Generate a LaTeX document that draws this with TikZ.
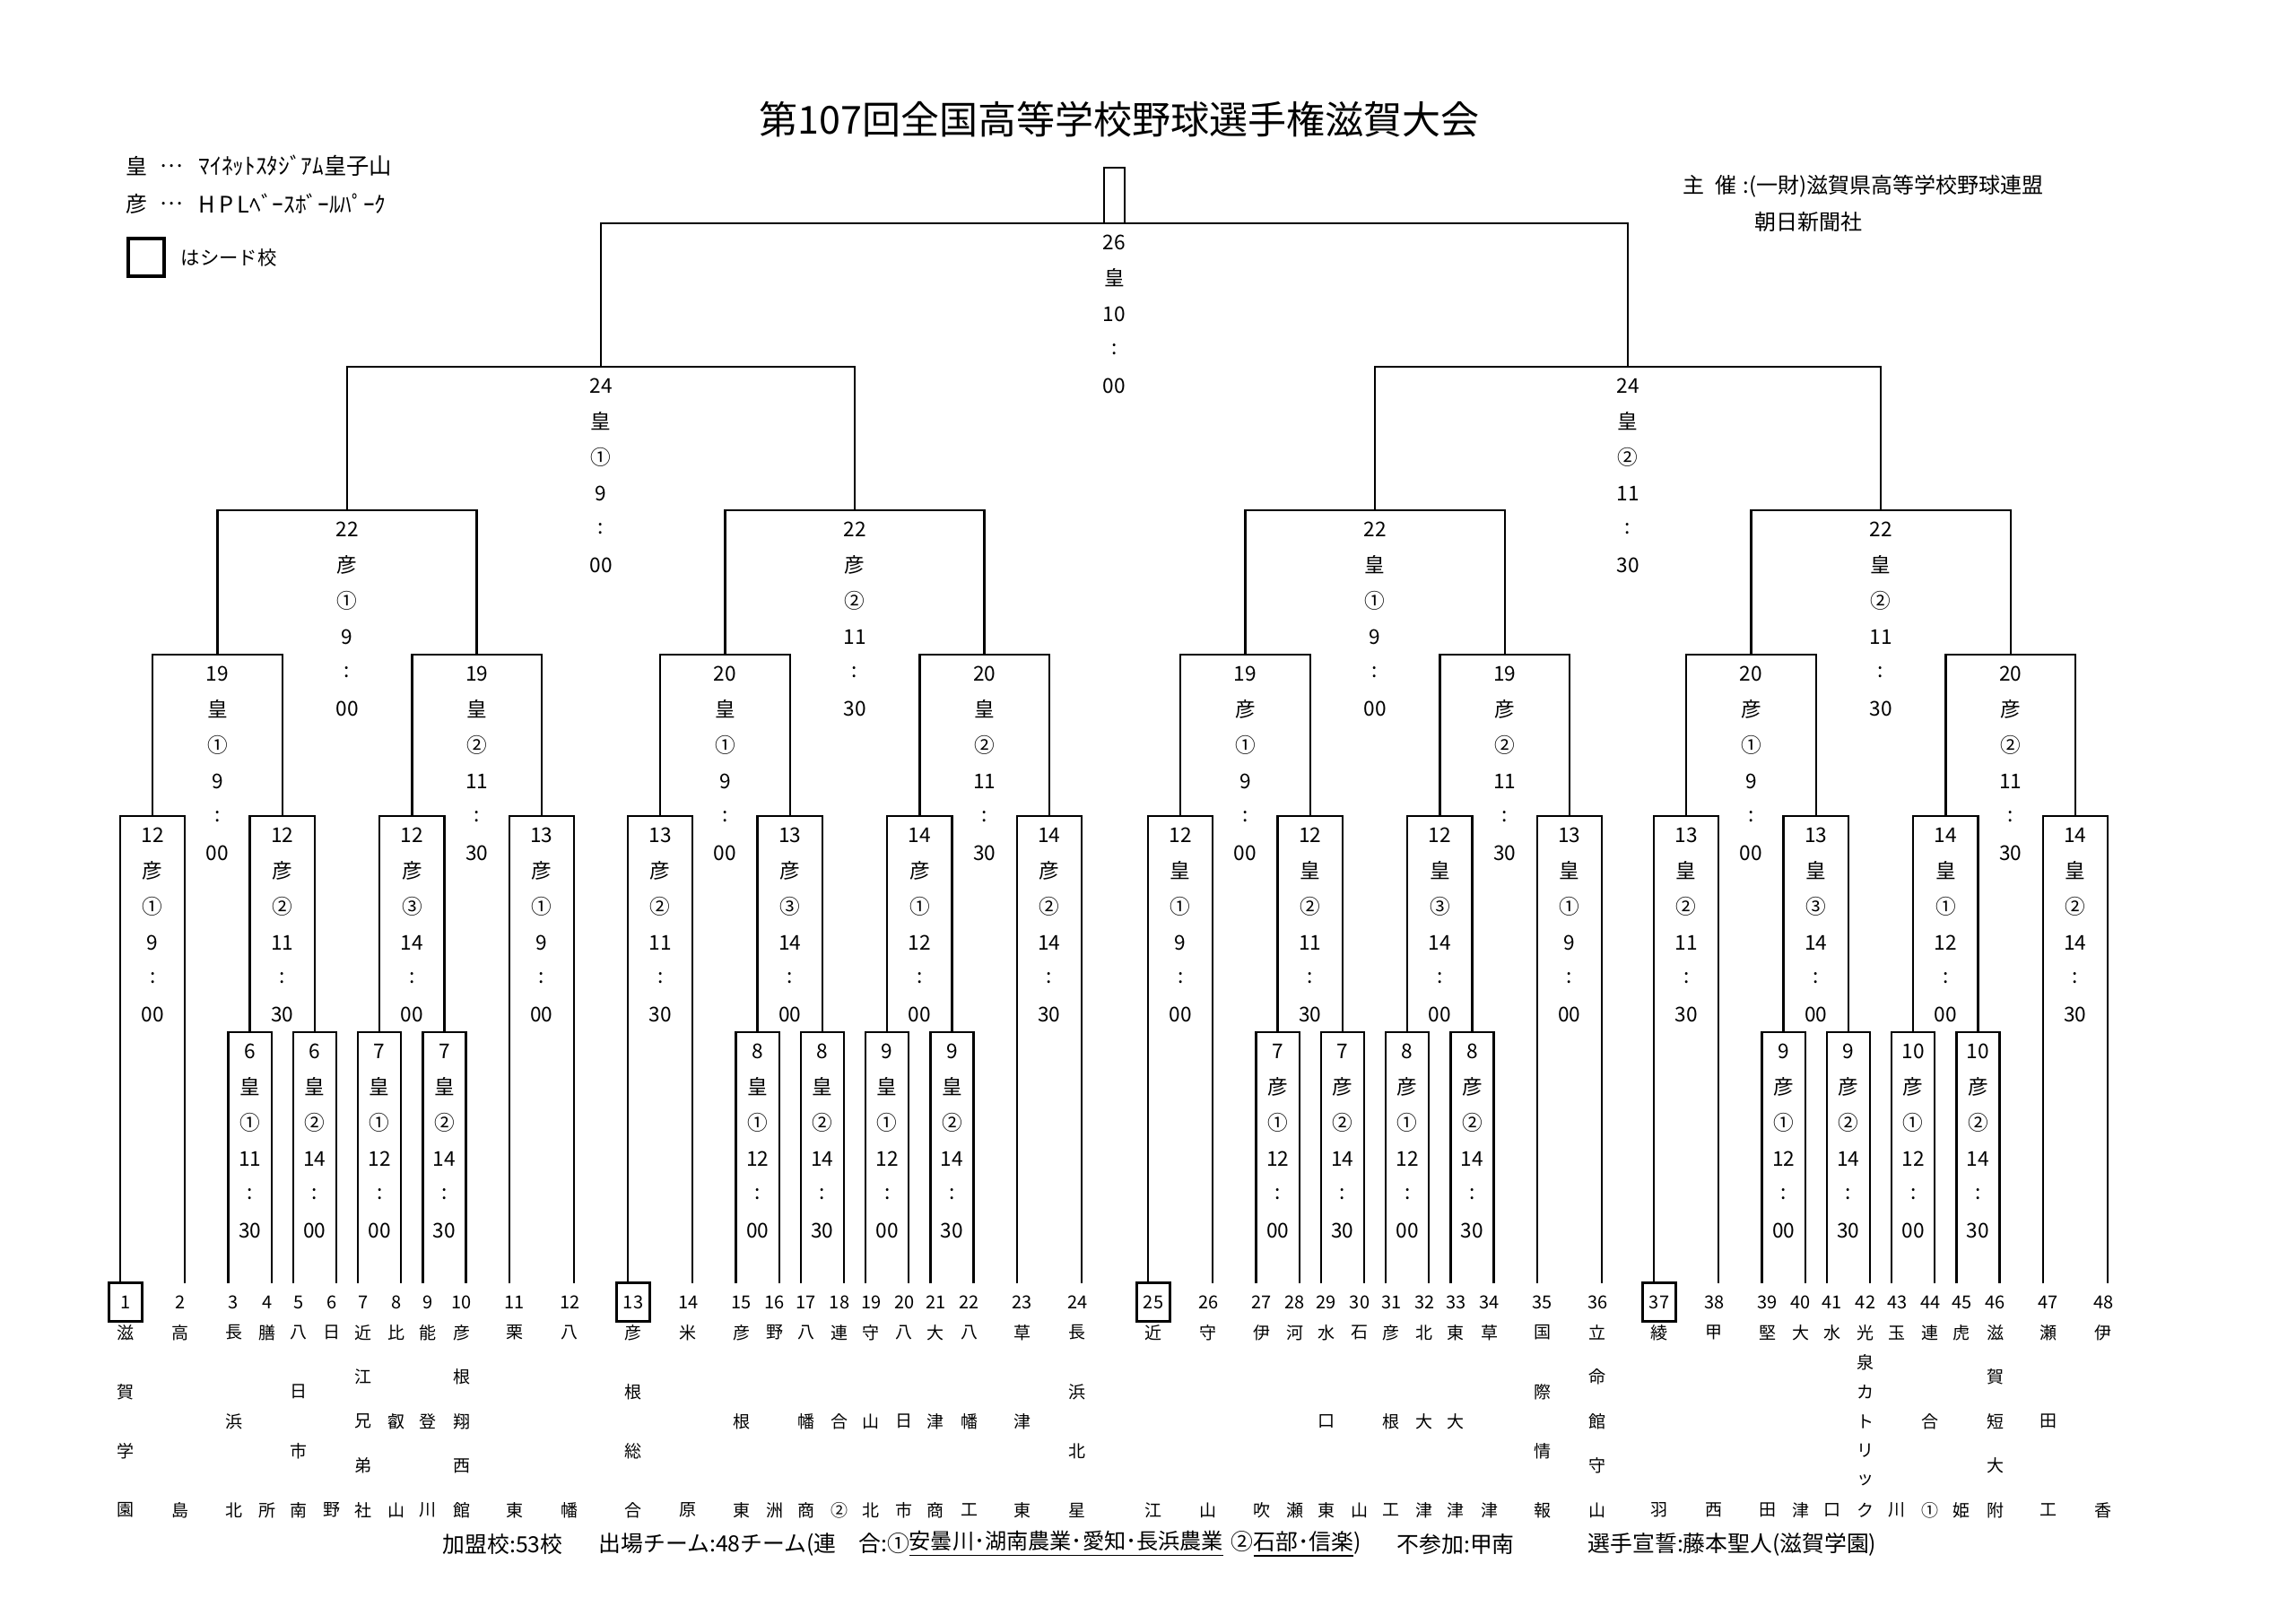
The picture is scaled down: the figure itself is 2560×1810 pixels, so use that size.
\documentclass[tikz,border=0pt]{standalone}
\usepackage{fontspec}
\setmainfont{Noto Sans CJK JP}
\usetikzlibrary{calc}
\newcommand\SetX[2]{\expandafter\xdef\csname bkX#1\endcsname{#2}}
\newcommand\GetX[1]{\csname bkX#1\endcsname}
\tikzset{
  bracket/.style={line width=0.7pt},
  matchlab/.style={font=\fontsize{6.8}{7}\selectfont, inner sep=0pt},
  teamnum/.style={font=\fontsize{6}{7}\selectfont, inner sep=0pt},
  teamname/.style={font=\fontsize{5.7}{6}\selectfont, inner sep=0pt},
  seedbox/.style={draw, line width=1.1pt, minimum width=11.1pt, minimum height=12.9pt, inner sep=0pt},
  legend/.style={font=\fontsize{7.2}{8}\selectfont, inner sep=0pt},
  legendtext/.style={font=\fontsize{7.6}{8}\selectfont, inner sep=0pt, anchor=west},
  org/.style={font=\fontsize{7.2}{8}\selectfont, inner sep=0pt, anchor=west},
  foot/.style={font=\fontsize{7.45}{8}\selectfont, inner sep=0pt, anchor=west},
  titlestyle/.style={font=\fontsize{12.9}{15}\selectfont, inner sep=0pt}
}
\newcommand\BMatch[5]{%
  \pgfmathsetmacro\bxa{\GetX{#2}}%
  \pgfmathsetmacro\bxb{\GetX{#3}}%
  \pgfmathsetmacro\bxm{(\bxa+\bxb)/2}%
  \SetX{#1}{\bxm}%
  \coordinate (#1) at (\bxm,#4);
  \coordinate (#1-L) at (\bxa,#4);
  \coordinate (#1-R) at (\bxb,#4);
  \draw[bracket] (#2) -- (#1-L) -- (#1-R) -- (#3);
  \foreach \bklab [count=\bki] in {#5} {
    \node[matchlab] (#1-t\bki) at ($(#1)+(0,{21+(\bki-1)*40})$) {\bklab};
  }
}
\newcommand\Team[3]{%
  \pgfmathsetmacro\tlx{\GetX{t#1}+(mod(#1,2)==1)*11-5}%
  \node[teamnum] (n#1) at (\tlx,1452) {#1};
  \foreach \tch [count=\tci] in {#3}{
    \node[teamname] (nm#1-\tci) at (\tlx,{1486+(\tci-1)*198/(#2-1)}) {\tch};
  }
}
\begin{document}
\begin{tikzpicture}[x=0.3pt,y=-0.3pt]
\fill[white] (0,0) rectangle (2560,1810);
\useasboundingbox (0,0) rectangle (2560,1810);

% team line ends
\foreach \secx [count=\sk from 0] in {134,700,1280,1844}{
  \foreach \pj [count=\pk] in {0,3,5,7,8,10,11,13,14,16,18,21}{
    \pgfmathtruncatemacro\tn{\sk*12+\pk}
    \pgfmathsetmacro\tx{\secx+\pj*24.1}
    \SetX{t\tn}{\tx}
    \coordinate (t\tn) at (\tx,1431);
  }
}

% section 1
\BMatch{a1}{t3}{t4}{1151}{6,皇,①,11,:,30}
\BMatch{a2}{t5}{t6}{1151}{6,皇,②,14,:,00}
\BMatch{a3}{t7}{t8}{1151}{7,皇,①,12,:,00}
\BMatch{a4}{t9}{t10}{1151}{7,皇,②,14,:,30}
\BMatch{b1}{t1}{t2}{910}{12,彦,①,9,:,00}
\BMatch{b2}{a1}{a2}{910}{12,彦,②,11,:,30}
\BMatch{b3}{a3}{a4}{910}{12,彦,③,14,:,00}
\BMatch{b4}{t11}{t12}{910}{13,彦,①,9,:,00}
\BMatch{c1}{b1}{b2}{730}{19,皇,①,9,:,00}
\BMatch{c2}{b3}{b4}{730}{19,皇,②,11,:,30}
\BMatch{d1}{c1}{c2}{569}{22,彦,①,9,:,00}
% section 2
\BMatch{a5}{t15}{t16}{1151}{8,皇,①,12,:,00}
\BMatch{a6}{t17}{t18}{1151}{8,皇,②,14,:,30}
\BMatch{a7}{t19}{t20}{1151}{9,皇,①,12,:,00}
\BMatch{a8}{t21}{t22}{1151}{9,皇,②,14,:,30}
\BMatch{b5}{t13}{t14}{910}{13,彦,②,11,:,30}
\BMatch{b6}{a5}{a6}{910}{13,彦,③,14,:,00}
\BMatch{b7}{a7}{a8}{910}{14,彦,①,12,:,00}
\BMatch{b8}{t23}{t24}{910}{14,彦,②,14,:,30}
\BMatch{c3}{b5}{b6}{730}{20,皇,①,9,:,00}
\BMatch{c4}{b7}{b8}{730}{20,皇,②,11,:,30}
\BMatch{d2}{c3}{c4}{569}{22,彦,②,11,:,30}
% section 3
\BMatch{a9}{t27}{t28}{1151}{7,彦,①,12,:,00}
\BMatch{a10}{t29}{t30}{1151}{7,彦,②,14,:,30}
\BMatch{a11}{t31}{t32}{1151}{8,彦,①,12,:,00}
\BMatch{a12}{t33}{t34}{1151}{8,彦,②,14,:,30}
\BMatch{b9}{t25}{t26}{910}{12,皇,①,9,:,00}
\BMatch{b10}{a9}{a10}{910}{12,皇,②,11,:,30}
\BMatch{b11}{a11}{a12}{910}{12,皇,③,14,:,00}
\BMatch{b12}{t35}{t36}{910}{13,皇,①,9,:,00}
\BMatch{c5}{b9}{b10}{730}{19,彦,①,9,:,00}
\BMatch{c6}{b11}{b12}{730}{19,彦,②,11,:,30}
\BMatch{d3}{c5}{c6}{569}{22,皇,①,9,:,00}
% section 4
\BMatch{a13}{t39}{t40}{1151}{9,彦,①,12,:,00}
\BMatch{a14}{t41}{t42}{1151}{9,彦,②,14,:,30}
\BMatch{a15}{t43}{t44}{1151}{10,彦,①,12,:,00}
\BMatch{a16}{t45}{t46}{1151}{10,彦,②,14,:,30}
\BMatch{b13}{t37}{t38}{910}{13,皇,②,11,:,30}
\BMatch{b14}{a13}{a14}{910}{13,皇,③,14,:,00}
\BMatch{b15}{a15}{a16}{910}{14,皇,①,12,:,00}
\BMatch{b16}{t47}{t48}{910}{14,皇,②,14,:,30}
\BMatch{c7}{b13}{b14}{730}{20,彦,①,9,:,00}
\BMatch{c8}{b15}{b16}{730}{20,彦,②,11,:,30}
\BMatch{d4}{c7}{c8}{569}{22,皇,②,11,:,30}
% upper rounds
\BMatch{e1}{d1}{d2}{409}{24,皇,①,9,:,00}
\BMatch{e2}{d3}{d4}{409}{24,皇,②,11,:,30}
\BMatch{fin}{e1}{e2}{249}{26,皇,10,:,00}
\draw[bracket] (fin) ++(-11.5,0) -- ++(0,-62) -- ++(23,0) -- ++(0,62);

% teams
\Team{1}{4}{滋,賀,学,園}
\Team{2}{2}{高,島}
\Team{3}{3}{長,浜,北}
\Team{4}{2}{膳,所}
\Team{5}{4}{八,日,市,南}
\Team{6}{2}{日,野}
\Team{7}{5}{近,江,兄,弟,社}
\Team{8}{3}{比,叡,山}
\Team{9}{3}{能,登,川}
\Team{10}{5}{彦,根,翔,西,館}
\Team{11}{2}{栗,東}
\Team{12}{2}{八,幡}
\Team{13}{4}{彦,根,総,合}
\Team{14}{2}{米,原}
\Team{15}{3}{彦,根,東}
\Team{16}{2}{野,洲}
\Team{17}{3}{八,幡,商}
\Team{18}{3}{連,合,②}
\Team{19}{3}{守,山,北}
\Team{20}{3}{八,日,市}
\Team{21}{3}{大,津,商}
\Team{22}{3}{八,幡,工}
\Team{23}{3}{草,津,東}
\Team{24}{4}{長,浜,北,星}
\Team{25}{2}{近,江}
\Team{26}{2}{守,山}
\Team{27}{2}{伊,吹}
\Team{28}{2}{河,瀬}
\Team{29}{3}{水,口,東}
\Team{30}{2}{石,山}
\Team{31}{3}{彦,根,工}
\Team{32}{3}{北,大,津}
\Team{33}{3}{東,大,津}
\Team{34}{2}{草,津}
\Team{35}{4}{国,際,情,報}
\Team{36}{5}{立,命,館,守,山}
\Team{37}{2}{綾,羽}
\Team{38}{2}{甲,西}
\Team{39}{2}{堅,田}
\Team{40}{2}{大,津}
\Team{41}{2}{水,口}
\Team{42}{7}{光,泉,カ,ト,リ,ッ,ク}
\Team{43}{2}{玉,川}
\Team{44}{3}{連,合,①}
\Team{45}{2}{虎,姫}
\Team{46}{5}{滋,賀,短,大,附}
\Team{47}{3}{瀬,田,工}
\Team{48}{2}{伊,香}

% seed boxes
\node[seedbox] (s1) at (n1) {};
\node[seedbox] (s13) at (n13) {};
\node[seedbox] (s25) at (n25) {};
\node[seedbox] (s37) at (n37) {};

% title
\node[titlestyle] (title) at (1248,133) {第107回全国高等学校野球選手権滋賀大会};

% legend
\node[legend] (lg1a) at (152,185) {皇};
\node[legend] (lg1b) at (191,185) {…};
\node[legendtext] (lg1c) at (221,185) {ﾏｲﾈｯﾄｽﾀｼﾞｱﾑ皇子山};
\node[legend] (lg2a) at (152,227) {彦};
\node[legend] (lg2b) at (191,227) {…};
\node[legendtext] (lg2c) at (221,227) {H\,P\,Lﾍﾞｰｽﾎﾞｰﾙﾊﾟｰｸ};
\node[draw, line width=1.4pt, minimum width=12pt, minimum height=12.6pt, inner sep=0pt] (lgbox) at (163,287) {};
\node[legend, anchor=west, font=\fontsize{6.4}{7}\selectfont] (lg3) at (201,287) {はシード校};

% organizer
\node[org] (org1) at (1876,208) {主\hspace{0.5em}催\hspace{0.3em}:(一財)滋賀県高等学校野球連盟};
\node[org] (org2) at (1956,247) {朝日新聞社};

% footer
\node[foot] (f1) at (493,1722) {加盟校:53校};
\node[foot] (f2) at (667,1722) {出場チーム:48チーム(連　合:①};
\node[foot, font=\fontsize{7.25}{8}\selectfont] (f3) at (1013,1722) {\underline{安曇川･湖南農業･愛知･長浜農業}};
\node[foot] (f4) at (1372,1722) {②\underline{石部･信楽})};
\node[foot] (f5) at (1557,1722) {不参加:甲南};
\node[foot] (f6) at (1770,1722) {選手宣誓:藤本聖人(滋賀学園)};
\end{tikzpicture}
\end{document}
